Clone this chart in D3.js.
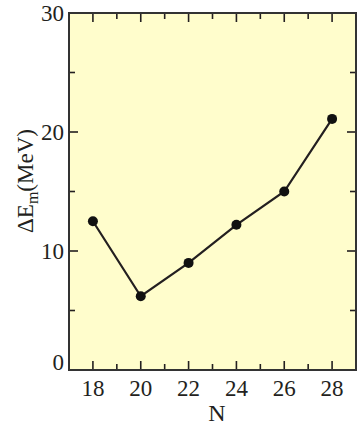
<!DOCTYPE html>
<html>
<head>
<meta charset="utf-8">
<script src="https://cdn.jsdelivr.net/npm/d3@7"></script>
<style>
  html, body { margin: 0; padding: 0; background: #fff; }
  svg { display: block; }
</style>
</head>
<body>
<svg id="chart" width="357" height="426"></svg>
<script>
// Neutron number N and the energy difference ΔE_m (MeV)
const neutronNumbers = [18, 20, 22, 24, 26, 28];
const deltaE = [12.5, 6.2, 9.0, 12.2, 15.0, 21.1];
const xMajorTicks = [18, 20, 22, 24, 26, 28];
const xMinorTicks = [19, 21, 23, 25, 27];
const yMajorTicks = [0, 10, 20, 30];
const yMinorTicks = [5, 15, 25];

const svg = d3.select("#chart")
  .attr("font-family", "'Liberation Serif', 'Times New Roman', Times, serif");
const margin = { left: 69, right: 1, top: 13, bottom: 56 };
const W = 357, H = 426;
const x = d3.scaleLinear().domain([17, 29]).range([margin.left, W - margin.right]);
const y = d3.scaleLinear().domain([0, 30]).range([H - margin.bottom, margin.top]);

const ink = "#231f20";
const majorLen = 9, minorLen = 6;
const fs = 23;

// plot background
svg.append("rect")
  .attr("x", x(17)).attr("y", y(30))
  .attr("width", x(29) - x(17)).attr("height", y(0) - y(30))
  .attr("fill", "#fffdcc");

// inward ticks on all four sides
const tickG = svg.append("g").attr("stroke", ink).attr("stroke-width", 1.6);
function xTicks(vals, len) {
  vals.forEach(v => {
    tickG.append("line").attr("x1", x(v)).attr("x2", x(v)).attr("y1", y(0)).attr("y2", y(0) - len);
    tickG.append("line").attr("x1", x(v)).attr("x2", x(v)).attr("y1", y(30)).attr("y2", y(30) + len);
  });
}
function yTicks(vals, len) {
  vals.forEach(v => {
    tickG.append("line").attr("y1", y(v)).attr("y2", y(v)).attr("x1", x(17)).attr("x2", x(17) + len);
    tickG.append("line").attr("y1", y(v)).attr("y2", y(v)).attr("x1", x(29)).attr("x2", x(29) - len);
  });
}
xTicks(xMajorTicks, majorLen);
xTicks(xMinorTicks, minorLen);
yTicks(yMajorTicks.filter(v => v > 0 && v < 30), majorLen);
yTicks(yMinorTicks, minorLen);

// frame
svg.append("rect")
  .attr("x", x(17)).attr("y", y(30))
  .attr("width", x(29) - x(17)).attr("height", y(0) - y(30))
  .attr("fill", "none").attr("stroke", "#333").attr("stroke-width", 2);

// tick labels
svg.append("g").selectAll("text").data(xMajorTicks).join("text")
  .attr("x", d => x(d)).attr("y", y(0) + 26)
  .attr("text-anchor", "middle").attr("font-size", fs).attr("fill", ink)
  .text(d => d);

svg.append("g").selectAll("text").data(yMajorTicks).join("text")
  .attr("x", x(17) - 5).attr("y", d => y(d) + (d === 0 ? 0 : 8))
  .attr("text-anchor", "end").attr("font-size", fs).attr("fill", ink)
  .text(d => d);

// axis titles
svg.append("text")
  .attr("x", 217).attr("y", 421)
  .attr("text-anchor", "middle").attr("font-size", 24).attr("fill", ink)
  .text("N");

const yTitle = svg.append("text")
  .attr("transform", "translate(33,181) rotate(-90)")
  .attr("text-anchor", "middle").attr("font-size", fs).attr("fill", ink);
yTitle.append("tspan").text("ΔE");
yTitle.append("tspan").attr("font-size", 16).attr("dy", 5).text("m");
yTitle.append("tspan").attr("dy", -5).text("(MeV)");

// data line and markers
const pts = neutronNumbers.map((n, i) => [n, deltaE[i]]);
svg.append("path")
  .datum(pts)
  .attr("fill", "none").attr("stroke", ink).attr("stroke-width", 2.2)
  .attr("d", d3.line().x(d => x(d[0])).y(d => y(d[1])));

svg.append("g").selectAll("circle").data(pts).join("circle")
  .attr("cx", d => x(d[0])).attr("cy", d => y(d[1]))
  .attr("r", 5).attr("fill", "#111");
</script>
</body>
</html>
